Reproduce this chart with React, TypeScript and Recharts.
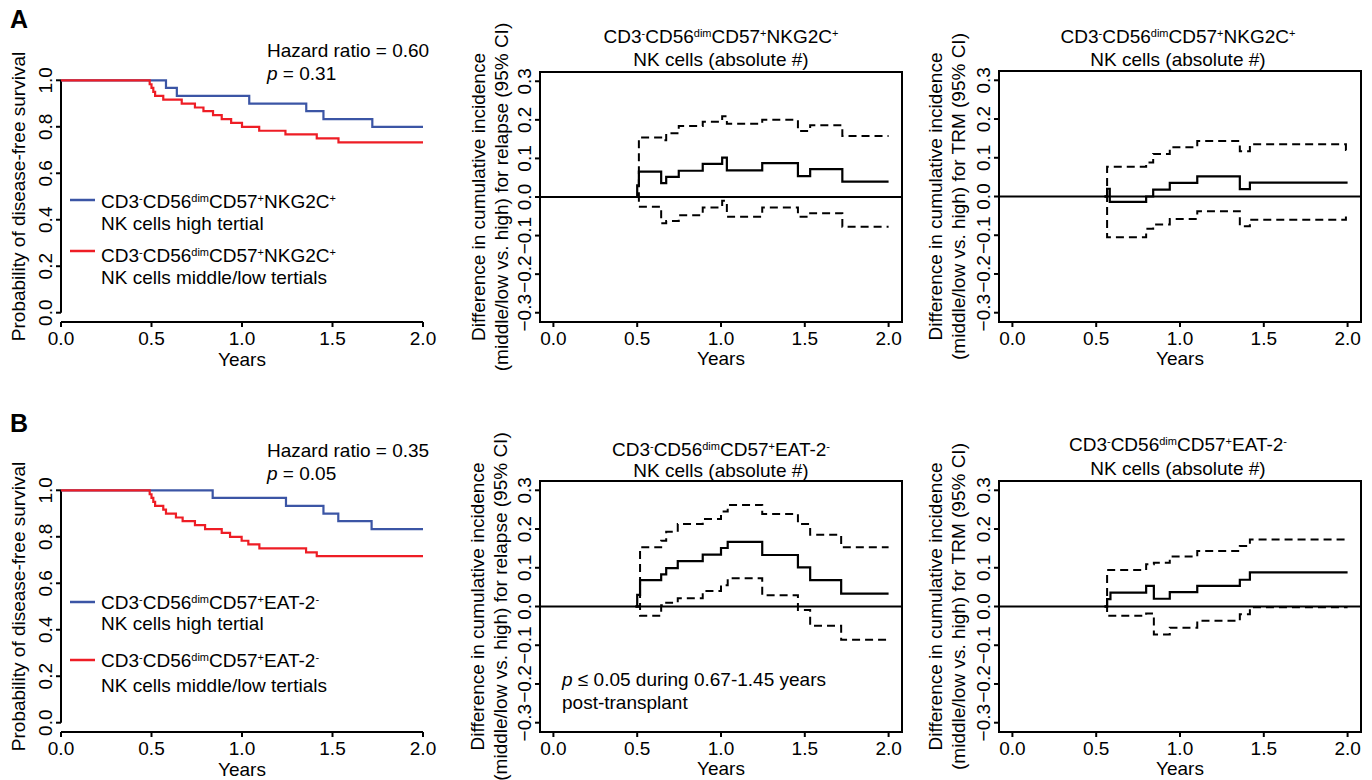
import React from "react";
import { LineChart, Line, XAxis, YAxis, ReferenceLine, ReferenceArea } from "recharts";

const FONT = '"Liberation Sans", Arial, Helvetica, sans-serif';
const BLUE = "#3b55a5";
const RED = "#ee1d25";

// A: Kaplan-Meier, NKG2C+ (years / survival)
const a1HighT = [0, 0.58, 0.64, 1.04, 1.355, 1.45, 1.72, 2.0];
const a1HighS = [1.0, 0.967, 0.933, 0.9, 0.867, 0.833, 0.8, 0.8];
const a1LowT = [0, 0.49, 0.5, 0.51, 0.52, 0.565, 0.667, 0.74, 0.787, 0.84, 0.888, 0.94, 1.0, 1.095, 1.24, 1.413, 1.533, 2.0];
const a1LowS = [1, 0.983, 0.967, 0.95, 0.933, 0.917, 0.9, 0.883, 0.867, 0.85, 0.833, 0.817, 0.8, 0.783, 0.767, 0.75, 0.733, 0.733];

// A: difference in relapse incidence
const a2T = [0.49, 0.5, 0.51, 0.643, 0.673, 0.748, 0.891, 1.007, 1.035, 1.246, 1.459, 1.532, 1.724, 2.0];
const a2Est = [0, 0.03, 0.066, 0.036, 0.052, 0.068, 0.086, 0.102, 0.069, 0.088, 0.054, 0.072, 0.04, 0.04];
const a2CiT = [0.49, 0.51, 0.643, 0.673, 0.748, 0.891, 1.007, 1.035, 1.246, 1.459, 1.532, 1.724, 2.0];
const a2Up = [0, 0.154, 0.147, 0.165, 0.184, 0.195, 0.209, 0.19, 0.2, 0.171, 0.186, 0.158, 0.158];
const a2Lo = [0, -0.025, -0.068, -0.062, -0.047, -0.027, -0.01, -0.051, -0.027, -0.051, -0.042, -0.077, -0.077];

// A: difference in TRM incidence
const a3T = [0.55, 0.565, 0.581, 0.798, 0.84, 0.939, 1.103, 1.357, 1.417, 2.0];
const a3Est = [0, 0.02, -0.014, 0.0, 0.018, 0.035, 0.052, 0.019, 0.036, 0.036];
const a3CiT = [0.55, 0.565, 0.798, 0.84, 0.939, 1.103, 1.357, 1.417, 1.99, 2.0];
const a3Up = [0, 0.077, 0.088, 0.11, 0.127, 0.143, 0.117, 0.135, 0.12, 0.12];
const a3Lo = [0, -0.105, -0.083, -0.072, -0.058, -0.038, -0.077, -0.06, -0.045, -0.045];

// B: Kaplan-Meier, EAT-2-
const b1HighT = [0, 0.838, 1.243, 1.45, 1.532, 1.716, 2.0];
const b1HighS = [1, 0.967, 0.933, 0.9, 0.867, 0.833, 0.833];
const b1LowT = [0, 0.49, 0.5, 0.51, 0.52, 0.565, 0.58, 0.635, 0.672, 0.74, 0.796, 0.888, 0.934, 0.998, 1.035, 1.096, 1.354, 1.413, 2.0];
const b1LowS = [1, 0.983, 0.967, 0.95, 0.933, 0.917, 0.9, 0.883, 0.867, 0.85, 0.833, 0.817, 0.8, 0.783, 0.767, 0.75, 0.733, 0.717, 0.717];

// B: difference in relapse incidence
const b2T = [0.49, 0.5, 0.517, 0.643, 0.673, 0.742, 0.891, 1.0, 1.04, 1.246, 1.459, 1.532, 1.717, 2.0];
const b2Est = [0, 0.03, 0.068, 0.083, 0.099, 0.117, 0.134, 0.151, 0.167, 0.133, 0.101, 0.068, 0.033, 0.033];
const b2CiT = [0.49, 0.517, 0.643, 0.673, 0.742, 0.891, 1.0, 1.04, 1.246, 1.459, 1.532, 1.717, 2.0];
const b2Up = [0, 0.153, 0.17, 0.193, 0.213, 0.226, 0.245, 0.262, 0.239, 0.213, 0.185, 0.153, 0.153];
const b2Lo = [0, -0.024, 0.003, 0.01, 0.021, 0.04, 0.055, 0.073, 0.029, -0.009, -0.05, -0.086, -0.086];

// B: difference in TRM incidence
const b3T = [0.55, 0.565, 0.585, 0.798, 0.844, 0.939, 1.103, 1.357, 1.417, 2.0];
const b3Est = [0, 0.019, 0.036, 0.053, 0.02, 0.037, 0.053, 0.069, 0.088, 0.088];
const b3CiT = [0.55, 0.565, 0.798, 0.844, 0.939, 1.103, 1.357, 1.417, 2.0];
const b3Up = [0, 0.094, 0.109, 0.113, 0.129, 0.143, 0.156, 0.173, 0.173];
const b3Lo = [0, -0.024, -0.018, -0.072, -0.055, -0.037, -0.02, -0.002, -0.002];

const yearTicks = [0, 0.5, 1, 1.5, 2];
const kmTicks = [0, 0.2, 0.4, 0.6, 0.8, 1.0];
const diffTicks = [-0.3, -0.2, -0.1, 0, 0.1, 0.2, 0.3];

const pts = (t: number[], v: number[]) => t.map((x, i) => ({ t: x, v: v[i] }));
const fmt = (v: number) => (v < -1e-9 ? "\u2212" : "") + Math.abs(v).toFixed(1);

const YTick = (props: any) => {
  const { x, y, payload } = props;
  return (
    <text x={x} y={y} transform={`rotate(-90 ${x} ${y})`} textAnchor="middle"
      fontSize={19} fontFamily={FONT} fill="#000">
      {fmt(payload.value)}
    </text>
  );
};

const XTick = (props: any) => {
  const { x, y, payload } = props;
  return (
    <text x={x} y={y + 18} textAnchor="middle" fontSize={19} fontFamily={FONT} fill="#000">
      {fmt(payload.value)}
    </text>
  );
};

const axisStroke = { stroke: "#000", strokeWidth: 2 };

function KMPanel({ left, top, height, high, low }: any) {
  return (
    <div style={{ position: "absolute", left, top }}>
      <LineChart width={440} height={height} margin={{ top: 71, right: 17, left: 0, bottom: 0 }}>
        <XAxis dataKey="t" type="number" domain={[0, 2]} ticks={yearTicks} interval={0}
          height={height - 71 - 251} tickSize={5} tickMargin={0} tick={XTick}
          axisLine={axisStroke} tickLine={axisStroke} allowDataOverflow />
        <YAxis type="number" domain={[-0.04, 1.04]} ticks={kmTicks} interval={0} width={61}
          tickSize={5} tickMargin={4} tick={YTick} axisLine={false} tickLine={axisStroke}
          allowDataOverflow />
        <ReferenceLine segment={[{ x: 0, y: 0 }, { x: 0, y: 1 }]} stroke="#000" strokeWidth={2}
          ifOverflow="visible" />
        <Line data={high} dataKey="v" type="stepAfter" stroke={BLUE} strokeWidth={2.2}
          dot={false} activeDot={false} isAnimationActive={false} />
        <Line data={low} dataKey="v" type="stepAfter" stroke={RED} strokeWidth={2.2}
          dot={false} activeDot={false} isAnimationActive={false} />
      </LineChart>
    </div>
  );
}

function DiffPanel({ left, top, width, height, mTop, mRight, yW, est, up, lo }: any) {
  const xDom = [-0.08, 2.08];
  const yDom = [-0.324, 0.324];
  return (
    <div style={{ position: "absolute", left, top }}>
      <LineChart width={width} height={height} margin={{ top: mTop, right: mRight, left: 0, bottom: 0 }}>
        <XAxis dataKey="t" type="number" domain={xDom} ticks={yearTicks} interval={0}
          height={height - mTop - (top === 0 && mTop === 72 ? 250 : 251)} tickSize={5} tickMargin={0}
          tick={XTick} axisLine={false} tickLine={axisStroke} allowDataOverflow />
        <YAxis type="number" domain={yDom} ticks={diffTicks} interval={0} width={yW}
          tickSize={5} tickMargin={4} tick={YTick} axisLine={false} tickLine={axisStroke}
          allowDataOverflow />
        <ReferenceArea x1={xDom[0]} x2={xDom[1]} y1={yDom[0]} y2={yDom[1]} fill="none"
          stroke="#000" strokeWidth={2} ifOverflow="visible" />
        <ReferenceLine y={0} stroke="#000" strokeWidth={2} />
        <Line data={up} dataKey="v" type="stepAfter" stroke="#000" strokeWidth={2}
          strokeDasharray="8 5" dot={false} activeDot={false} isAnimationActive={false} />
        <Line data={lo} dataKey="v" type="stepAfter" stroke="#000" strokeWidth={2}
          strokeDasharray="8 5" dot={false} activeDot={false} isAnimationActive={false} />
        <Line data={est} dataKey="v" type="stepAfter" stroke="#000" strokeWidth={2.2}
          dot={false} activeDot={false} isAnimationActive={false} />
      </LineChart>
    </div>
  );
}

// marker names with superscripts: [text, isSup]
const nkg2c: [string, boolean][] = [["CD3", false], ["-", true], ["CD56", false], ["dim", true],
  ["CD57", false], ["+", true], ["NKG2C", false], ["+", true]];
const eat2: [string, boolean][] = [["CD3", false], ["-", true], ["CD56", false], ["dim", true],
  ["CD57", false], ["+", true], ["EAT-2", false], ["-", true]];

function Marker({ x, y, parts, anchor = "start" }: any) {
  let up = false;
  return (
    <text x={x} y={y} textAnchor={anchor} fontSize={19} fontFamily={FONT} fill="#000">
      {parts.map(([s, sup]: [string, boolean], i: number) => {
        const dy = sup && !up ? -6 : !sup && up ? 6 : 0;
        up = sup;
        return (
          <tspan key={i} dy={dy} fontSize={sup ? 11 : 19}>{s}</tspan>
        );
      })}
    </text>
  );
}

const T = (p: any) => <text fontSize={19} fontFamily={FONT} fill="#000" {...p} />;
const VT = ({ x, y, children }: any) => (
  <text x={x} y={y} transform={`rotate(-90 ${x} ${y})`} textAnchor="middle" fontSize={19}
    fontFamily={FONT} fill="#000">{children}</text>
);

function Overlay() {
  return (
    <svg width={1372} height={780} style={{ position: "absolute", left: 0, top: 0, pointerEvents: "none" }}>
      <text x={10} y={28} fontSize={25} fontWeight="bold" fontFamily={FONT}>A</text>
      <text x={10} y={432} fontSize={25} fontWeight="bold" fontFamily={FONT}>B</text>

      {/* A1 */}
      <VT x={25} y={196.5}>Probability of disease-free survival</VT>
      <T x={242} y={366} textAnchor="middle">Years</T>
      <T x={267} y={57}>Hazard ratio = 0.60</T>
      <T x={267} y={80}><tspan fontStyle="italic">p</tspan> = 0.31</T>
      <line x1={70} x2={95} y1={200} y2={200} stroke={BLUE} strokeWidth={2.5} />
      <Marker x={101} y={208} parts={nkg2c} />
      <T x={101} y={230}>NK cells high tertial</T>
      <line x1={70} x2={95} y1={251} y2={251} stroke={RED} strokeWidth={2.5} />
      <Marker x={101} y={261.5} parts={nkg2c} />
      <T x={101} y={284}>NK cells middle/low tertials</T>

      {/* A2 */}
      <Marker x={721} y={42.5} parts={nkg2c} anchor="middle" />
      <T x={721} y={66} textAnchor="middle">NK cells (absolute #)</T>
      <VT x={485} y={197}>Difference in cumulative incidence</VT>
      <VT x={508} y={197}>(middle/low vs. high) for relapse (95% CI)</VT>
      <T x={721} y={365} textAnchor="middle">Years</T>

      {/* A3 */}
      <Marker x={1178} y={42.5} parts={nkg2c} anchor="middle" />
      <T x={1178} y={66} textAnchor="middle">NK cells (absolute #)</T>
      <VT x={942} y={196.5}>Difference in cumulative incidence</VT>
      <VT x={965} y={196.5}>(middle/low vs. high) for TRM (95% CI)</VT>
      <T x={1180} y={365} textAnchor="middle">Years</T>

      {/* B1 */}
      <VT x={25} y={606.5}>Probability of disease-free survival</VT>
      <T x={242} y={776} textAnchor="middle">Years</T>
      <T x={267} y={457}>Hazard ratio = 0.35</T>
      <T x={267} y={479.5}><tspan fontStyle="italic">p</tspan> = 0.05</T>
      <line x1={70} x2={95} y1={602} y2={602} stroke={BLUE} strokeWidth={2.5} />
      <Marker x={101} y={608.5} parts={eat2} />
      <T x={101} y={630}>NK cells high tertial</T>
      <line x1={70} x2={95} y1={660} y2={660} stroke={RED} strokeWidth={2.5} />
      <Marker x={101} y={667} parts={eat2} />
      <T x={101} y={692}>NK cells middle/low tertials</T>

      {/* B2 */}
      <Marker x={721} y={456} parts={eat2} anchor="middle" />
      <T x={721} y={476.5} textAnchor="middle">NK cells (absolute #)</T>
      <VT x={484} y={606.5}>Difference in cumulative incidence</VT>
      <VT x={507} y={606.5}>(middle/low vs. high) for relapse (95% CI)</VT>
      <T x={721} y={775} textAnchor="middle">Years</T>
      <T x={562} y={686}><tspan fontStyle="italic">p</tspan> {"\u2264"} 0.05 during 0.67-1.45 years</T>
      <T x={562} y={709}>post-transplant</T>

      {/* B3 */}
      <Marker x={1178} y={451} parts={eat2} anchor="middle" />
      <T x={1178} y={475} textAnchor="middle">NK cells (absolute #)</T>
      <VT x={942} y={606.5}>Difference in cumulative incidence</VT>
      <VT x={965} y={606.5}>(middle/low vs. high) for TRM (95% CI)</VT>
      <T x={1180} y={775} textAnchor="middle">Years</T>
    </svg>
  );
}

export default function App() {
  return (
    <div style={{ position: "absolute", left: 0, top: 0, width: 1372, height: 780, background: "#fff", overflow: "hidden", fontFamily: FONT }}>
      <KMPanel left={0} top={0} height={380} high={pts(a1HighT, a1HighS)} low={pts(a1LowT, a1LowS)} />
      <KMPanel left={0} top={410} height={370} high={pts(b1HighT, b1HighS)} low={pts(b1LowT, b1LowS)} />
      <DiffPanel left={440} top={0} width={470} height={380} mTop={72} mRight={8} yW={100}
        est={pts(a2T, a2Est)} up={pts(a2CiT, a2Up)} lo={pts(a2CiT, a2Lo)} />
      <DiffPanel left={900} top={0} width={472} height={380} mTop={71} mRight={11} yW={99}
        est={pts(a3T, a3Est)} up={pts(a3CiT, a3Up)} lo={pts(a3CiT, a3Lo)} />
      <DiffPanel left={440} top={410} width={470} height={370} mTop={71} mRight={8} yW={100}
        est={pts(b2T, b2Est)} up={pts(b2CiT, b2Up)} lo={pts(b2CiT, b2Lo)} />
      <DiffPanel left={900} top={410} width={472} height={370} mTop={71} mRight={11} yW={99}
        est={pts(b3T, b3Est)} up={pts(b3CiT, b3Up)} lo={pts(b3CiT, b3Lo)} />
      <Overlay />
    </div>
  );
}
